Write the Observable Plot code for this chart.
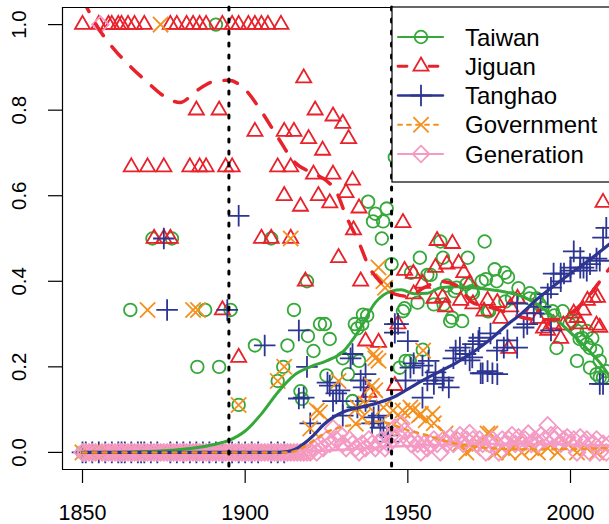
<!DOCTYPE html>
<html><head><meta charset="utf-8">
<script src="https://cdn.jsdelivr.net/npm/d3@7"></script>
<script src="https://cdn.jsdelivr.net/npm/@observablehq/plot@0.6"></script>
<style>
html,body{margin:0;padding:0;background:#fff;overflow:hidden;}
#chart{width:609px;height:524px;overflow:hidden;position:relative;}
#chart svg{overflow:hidden;}
</style></head><body><div id="chart"></div>
<script>
// ---------- data ----------
const seriesNames = ["Taiwan", "Jiguan", "Tanghao", "Government", "Generation"];
const xTicks = [1850, 1900, 1950, 2000];
const yTicks = [0, 0.2, 0.4, 0.6, 0.8, 1.0];
const eraLines = [1895, 1945];

// Taiwan
const taiwanZeroYears = [1850,1851,1852,1853,1854,1855,1856,1857,1858,1859,1860,1861,1862,1863,1866,1867,1868,1869,1870,1872,1873,1874,1875,1876,1878,1879,1880,1881,1882,1883,1884,1886,1888,1889,1890,1893,1894,1896,1897,1899,1900,1901,1902,1904,1905,1906,1907,1909,1914,1916];
const taiwanPoints = [[1864.7,0.333],[1871.5,0.5],[1877.5,0.5],[1885.3,0.2],[1887.7,0.333],[1891,1.0],[1892,0.2],[1895.5,0.333],[1898,0.111],[1903,0.25],[1908,0.5],[1910,0.167],[1911.7,0.2],[1913,0.25],[1915,0.333],[1917,0.143],[1917.5,0.125],[1919,0.4],[1919.3,0.272],[1921,0.237],[1923,0.3],[1924.5,0.3],[1925,0.18],[1926,0.265],[1930,0.22],[1931.6,0.183],[1933,0.12],[1933.7,0.3],[1934.5,0.29],[1935,0.214],[1936,0.3],[1936.2,0.322],[1937.5,0.32],[1937.8,0.586],[1939.3,0.54],[1940,0.558],[1942,0.5],[1942.4,0.54],[1943.5,0.57],[1945,0.44],[1946,0.69],[1947.5,0.198],[1948.5,0.33],[1949,0.337],[1949.3,0.214],[1950.6,0.214],[1951,0.42],[1953,0.35],[1953.7,0.455],[1954.6,0.24],[1956,0.415],[1957,0.415],[1958,0.346],[1960,0.493],[1960.8,0.455],[1961,0.346],[1962,0.39],[1963,0.307],[1963.6,0.315],[1964.4,0.377],[1965,0.385],[1966.7,0.307],[1968,0.393],[1968.4,0.455],[1969.6,0.377],[1970,0.372],[1972.7,0.4],[1973.6,0.493],[1974,0.405],[1974.5,0.33],[1975,0.33],[1976.7,0.428],[1977.3,0.4],[1979.8,0.42],[1980,0.353],[1980.8,0.41],[1982,0.36],[1984,0.384],[1987.4,0.36],[1987.5,0.372],[1989.6,0.36],[1990.5,0.346],[1991.4,0.337],[1994.5,0.33],[1995,0.32],[1995.7,0.244],[1997.6,0.33],[1999.7,0.3],[2000.6,0.307],[2002,0.284],[2002,0.214],[2002.8,0.265],[2003.7,0.267],[2005,0.253],[2005,0.284],[2006,0.198],[2006.7,0.267],[2006,0.244],[2008,0.237],[2008,0.183],[2009,0.214],[2009,0.175],[2011,0.19],[2010,0.175]];

// Jiguan
const jiguanOneYears = [1850,1855,1858,1859,1861,1862,1864,1866,1869,1877,1879,1882,1884,1886,1888,1893,1896,1898,1901,1903,1905,1907,1911];
const jiguanPoints = [[1885,0.8],[1892,0.8],[1918,0.875],[1865,0.667],[1870,0.667],[1875,0.667],[1883,0.667],[1886,0.667],[1888,0.667],[1894,0.667],[1896,0.667],[1910,0.667],[1914,0.667],[1903,0.75],[1912,0.75],[1915,0.75],[1872,0.5],[1875,0.5],[1877,0.5],[1905,0.5],[1908,0.5],[1914,0.5],[1912,0.6],[1917,0.575],[1898,0.222],[1918.5,0.4],[1893,0.333],[1921.5,0.8],[1927,0.786],[1930,0.769],[1931.8,0.733],[1919.5,0.733],[1923.8,0.706],[1921,0.65],[1927,0.65],[1933,0.636],[1922.5,0.6],[1926,0.583],[1931,0.607],[1935,0.571],[1933.3,0.52],[1928.7,0.455],[1935.5,0.4],[1937,0.26],[1941,0.257],[1938,0.14],[1946,0.156],[1947,0.3],[1948.5,0.537],[1959,0.495],[1963.7,0.488],[1949,0.425],[1951.7,0.418],[1958.5,0.432],[1954.5,0.395],[1965.6,0.442],[1967.2,0.42],[1969,0.395],[1960.7,0.362],[1962,0.44],[1951.8,0.37],[1958,0.36],[1961.6,0.34],[1966.2,0.355],[1970,0.347],[1973.4,0.33],[1974.5,0.355],[1977.5,0.35],[1978.5,0.313],[1981.6,0.34],[1983.7,0.36],[1981,0.243],[1988.6,0.336],[1990,0.313],[1991.7,0.29],[1993,0.285],[1994.8,0.3],[1997,0.266],[1997.8,0.297],[2001,0.325],[2002,0.315],[2003,0.3],[2004,0.332],[2005.2,0.355],[2007,0.362],[2008,0.297],[2008.3,0.362],[2009,0.292],[2010,0.584]];

// Tanghao
const tanghaoZeroYears = [1850,1851,1853,1855,1857,1859,1861,1862,1863,1865,1867,1868,1869,1871,1873,1877,1879,1881,1883,1885,1887,1889,1891,1893,1896,1898,1900,1902,1904,1908,1910,1912];
const tanghaoPoints = [[1875,0.5],[1876,0.333],[1894.5,0.333],[1898,0.553],[1906,0.25],[1916.5,0.285],[1919,0.2],[1916.5,0.126],[1918,0.128],[1920,0.068],[1925.3,0.163],[1926,0.156],[1927,0.12],[1928,0.138],[1929,0.145],[1930,0.12],[1930,0.086],[1932.4,0.22],[1933,0.23],[1934.5,0.105],[1935.5,0.168],[1936.4,0.152],[1937,0.183],[1937,0.12],[1939,0.068],[1939.5,0.082],[1941,0.086],[1941.6,0.058],[1942.5,0.058],[1943.7,0.04],[1944,0.025],[1946,0.3],[1946,0.28],[1947,0.3],[1949.3,0.168],[1950,0.26],[1950.8,0.198],[1951.8,0.208],[1954.5,0.203],[1954.5,0.128],[1956,0.168],[1956.4,0.214],[1958,0.16],[1958.5,0.187],[1960.7,0.168],[1961,0.175],[1962.6,0.152],[1964,0.22],[1964.7,0.238],[1966,0.245],[1967.7,0.23],[1969,0.215],[1969.8,0.222],[1970,0.253],[1971.7,0.26],[1972,0.268],[1972.4,0.185],[1973,0.185],[1974.5,0.19],[1975.4,0.278],[1976,0.185],[1977.4,0.238],[1977.5,0.183],[1979.5,0.245],[1980.6,0.262],[1983.6,0.245],[1983.6,0.348],[1985.6,0.292],[1986.7,0.3],[1988.7,0.325],[1990.8,0.34],[1993,0.37],[1994,0.285],[1994,0.385],[1994.8,0.418],[1997,0.418],[1997,0.4],[1998,0.418],[2000,0.425],[2000,0.432],[2001,0.47],[2003,0.432],[2003,0.455],[2004,0.432],[2005,0.425],[2006,0.44],[2008,0.453],[2009,0.448],[2009,0.16],[2010,0.16],[2010,0.502],[2011,0.525]];

// Government
const governmentZeroYears = [1850,1852,1853,1854,1856,1858,1860,1862,1864,1866,1868,1872,1876,1878,1880,1882,1886,1888,1890,1892,1894,1896,1900,1902,1904,1906,1908,1913,1915,1916,1918];
const governmentPoints = [[1870,0.333],[1874,1.0],[1884,0.333],[1885.5,0.333],[1898,0.111],[1910,0.167],[1912,0.2],[1914,0.5],[1920,0.056],[1922,0.098],[1923,0.093],[1928.7,0.167],[1934,0.067],[1934.5,0.105],[1936,0.082],[1937,0.114],[1939,0.156],[1939.5,0.23],[1940,0.22],[1940,0.145],[1941,0.214],[1941,0.432],[1942.5,0.4],[1943,0.385],[1942.5,0.105],[1944.7,0.058],[1945.4,0.098],[1947.7,0.082],[1948.4,0.098],[1950.8,0.105],[1951.5,0.098],[1953.4,0.086],[1954,0.09],[1954.7,0.238],[1955.5,0.075],[1957.6,0.09],[1958,0.068],[1961.6,0.044],[1963,0.03],[1966,0.02],[1968,0],[1970,0.01],[1972,0.02],[1974.5,0.044],[1975.4,0.044],[1977,0],[1979,0.01],[1981,0],[1983,0.02],[1985,0],[1988,0.01],[1990,0],[1993,0.01],[1996,0],[1999,0.02],[2002,0],[2005,0.01],[2008,0],[2011,0.01]];

// Generation
const generationZeroYears = [1850,1851,1852,1853,1854,1856,1857,1858,1859,1860,1861,1862,1863,1864,1865,1866,1867,1868,1869,1870,1871,1872,1873,1874,1875,1876,1877,1878,1879,1880,1881,1882,1883,1884,1885,1886,1887,1888,1889,1890,1891,1892,1893,1894,1895,1896,1897,1898,1899,1900,1901,1902,1903,1904,1905,1906,1907,1908,1909,1910,1911,1912,1913,1914,1915,1916,1917,1918,1919,1920,1922,1935,1954,1960,1974,1978,2002,2006,2009,2011];
const generationPoints = [[1855.5,1.0],[1921,0.01],[1923,0.02],[1924,0.01],[1925,0.03],[1926,0.02],[1927,0.056],[1928,0.03],[1929,0.044],[1930,0.02],[1931,0.01],[1932,0.03],[1933,0.02],[1934,0.01],[1936,0.02],[1937,0.01],[1938,0.03],[1939,0.02],[1940,0.01],[1941,0.02],[1942,0.03],[1943,0.01],[1944,0.02],[1945,0.04],[1946,0.058],[1947,0.04],[1948,0.067],[1949,0.05],[1950,0.03],[1951,0.02],[1952,0.03],[1953,0.02],[1955,0.02],[1956,0.01],[1957,0.02],[1958,0.03],[1959,0.02],[1961,0.03],[1962,0.02],[1963,0.035],[1964,0.02],[1965,0.03],[1966,0.04],[1967,0.02],[1968,0.03],[1969,0.045],[1970,0.03],[1971,0.02],[1972,0.03],[1973,0.02],[1975,0.02],[1976,0.03],[1977,0.02],[1979,0.03],[1980,0.02],[1981,0.03],[1982,0.04],[1983,0.02],[1984,0.035],[1985,0.02],[1986,0.03],[1987,0.044],[1988,0.02],[1989,0.03],[1990,0.02],[1991,0.04],[1992,0.03],[1993,0.063],[1994,0.04],[1995,0.03],[1996,0.04],[1997,0.02],[1998,0.03],[1999,0.035],[2000,0.02],[2001,0.03],[2003,0.035],[2004,0.02],[2005,0.03],[2007,0.02],[2008,0.03],[2010,0.02],[2012,0.02]];

// smoothed trend lines
const taiwanSmooth = [[1850,0],[1860,0],[1870,0.002],[1875,0.004],[1880,0.007],[1885,0.011],[1890,0.018],[1895,0.028],[1900,0.05],[1905,0.09],[1910,0.14],[1915,0.18],[1920,0.2],[1925,0.214],[1930,0.235],[1935,0.285],[1940,0.35],[1945,0.377],[1948,0.38],[1952,0.371],[1956,0.372],[1960,0.385],[1965,0.387],[1970,0.385],[1975,0.381],[1980,0.375],[1985,0.365],[1990,0.345],[1995,0.315],[2000,0.28],[2005,0.243],[2010,0.2],[2012,0.178]];
const jiguanSmooth = [[1850,1.06],[1855,0.99],[1860,0.94],[1865,0.9],[1870,0.865],[1875,0.833],[1880,0.818],[1885,0.845],[1890,0.866],[1895,0.87],[1900,0.848],[1905,0.797],[1910,0.737],[1915,0.68],[1920,0.655],[1925,0.635],[1928,0.61],[1931,0.553],[1935,0.49],[1938,0.435],[1942,0.395],[1946,0.37],[1950,0.365],[1955,0.385],[1960,0.4],[1965,0.39],[1970,0.35],[1975,0.34],[1980,0.328],[1985,0.316],[1990,0.31],[1995,0.31],[2000,0.325],[2005,0.36],[2010,0.41],[2012,0.43]];
const tanghaoSmooth = [[1850,0],[1910,0],[1913,0.002],[1915,0.006],[1918,0.02],[1921,0.04],[1924,0.064],[1927,0.082],[1930,0.094],[1935,0.105],[1940,0.114],[1945,0.127],[1950,0.148],[1955,0.17],[1960,0.19],[1965,0.21],[1970,0.234],[1975,0.262],[1980,0.295],[1985,0.325],[1990,0.36],[1995,0.39],[2000,0.418],[2005,0.445],[2010,0.475],[2012,0.487]];
const governmentSmooth = [[1850,0],[1913,0],[1916,0.005],[1920,0.022],[1925,0.047],[1930,0.06],[1935,0.066],[1940,0.072],[1944,0.068],[1947,0.06],[1950,0.052],[1955,0.042],[1960,0.03],[1965,0.02],[1970,0.014],[1975,0.01],[1980,0.008],[1990,0.007],[2000,0.008],[2012,0.01]];
const generationSmooth = [[1850,0],[1920,0.003],[1950,0.015],[1980,0.02],[2012,0.016]];

// ---------- styles ----------
const style = {
  Taiwan:     {color: "#35a83a", symbol: "circle",    r: 6.3, d3sym: d3.symbolCircle,   dash: null,   ldash: null,  lw: 3,   legW: 2.2},
  Jiguan:     {color: "#e8212a", symbol: "triangle2", r: 7.2, d3sym: d3.symbolTriangle2, dash: "14,14", ldash: "9,22", lw: 3.5, legW: 2.8},
  Tanghao:    {color: "#2d3592", symbol: "plus",      r: 7.0, d3sym: d3.symbolPlus,     dash: null,   ldash: null,  lw: 3.2, legW: 2.4},
  Government: {color: "#f4901e", symbol: "times",     r: 7.0, d3sym: d3.symbolTimes,    dash: "4,6",  ldash: "4,5", lw: 2.5, legW: 1.8},
  Generation: {color: "#f49ac4", symbol: "diamond2",  r: 7.5, d3sym: d3.symbolDiamond2, dash: null,   ldash: null,  lw: 2.5, legW: 2.2}
};

const rows = (name, zeroYears, zeroValue, pts) =>
  zeroYears.map(y => ({year: y, value: zeroValue, series: name}))
    .concat(pts.map(([y, v]) => ({year: y, value: v, series: name})));
const pointsBy = {
  Taiwan: rows("Taiwan", taiwanZeroYears, 0, taiwanPoints),
  Jiguan: rows("Jiguan", jiguanOneYears, 1, jiguanPoints),
  Tanghao: rows("Tanghao", tanghaoZeroYears, 0, tanghaoPoints),
  Government: rows("Government", governmentZeroYears, 0, governmentPoints),
  Generation: rows("Generation", generationZeroYears, 0, generationPoints)
};
const smoothBy = {
  Taiwan: taiwanSmooth, Jiguan: jiguanSmooth, Tanghao: tanghaoSmooth,
  Government: governmentSmooth, Generation: generationSmooth
};

const xDomain = [1843.85, 2020];
const yDomain = [-0.04, 1.04];

const marks = [];
for (const s of seriesNames) {
  const st = style[s];
  marks.push(Plot.dot(pointsBy[s], {x: "year", y: "value", symbol: st.symbol, r: st.r,
    stroke: st.color, fill: "none", strokeWidth: 1.8}));
}
for (const s of ["Generation", "Taiwan", "Jiguan", "Tanghao", "Government"]) {
  const st = style[s];
  marks.push(Plot.line(smoothBy[s], {x: d => d[0], y: d => d[1], stroke: st.color,
    strokeWidth: st.lw, strokeDasharray: st.dash || undefined, curve: "monotone-x", clip: true}));
}
marks.push(Plot.ruleX(eraLines, {stroke: "black", strokeWidth: 3, strokeDasharray: "3,9", strokeLinecap: "round"}));
marks.push(Plot.ruleY([yDomain[0], yDomain[1]], {stroke: "black", strokeWidth: 1.2}));
marks.push(Plot.ruleX([xDomain[0]], {stroke: "black", strokeWidth: 1.2}));
marks.push(Plot.axisX({ticks: xTicks, tickSize: 14, tickPadding: 21, tickFormat: "d", fontSize: 21.5, label: null, strokeWidth: 1.2}));
marks.push(Plot.axisY({ticks: yTicks, tickSize: 14, tickRotate: -90, tickPadding: 23, tickFormat: ".1f", fontSize: 20.5, label: null, strokeWidth: 1.2}));

const svg = Plot.plot({
  width: 609, height: 524,
  marginLeft: 62, marginRight: 0, marginTop: 7, marginBottom: 55,
  x: {domain: xDomain, range: [62, 635.07], label: null},
  y: {domain: yDomain, range: [469, 7], label: null},
  style: {fontFamily: "'Liberation Sans', Arial, Helvetica, sans-serif", background: "white", color: "black", overflow: "hidden"},
  marks
});
document.getElementById("chart").appendChild(svg);

// ---------- legend (inside the plot, top-right) ----------
const lg = d3.select(svg).append("g").attr("class", "legend");
lg.append("rect").attr("x", 392).attr("y", 7).attr("width", 400).attr("height", 175)
  .attr("fill", "white").attr("stroke", "black").attr("stroke-width", 1.2);
seriesNames.forEach((s, i) => {
  const st = style[s];
  const cy = 37 + i * 29.25;
  lg.append("line").attr("x1", 398).attr("x2", 443).attr("y1", cy).attr("y2", cy)
    .attr("stroke", st.color).attr("stroke-width", st.legW)
    .attr("stroke-linecap", "round")
    .attr("stroke-dasharray", st.ldash);
  lg.append("path").attr("transform", `translate(421,${cy})`)
    .attr("d", d3.symbol(st.d3sym, Math.PI * st.r * st.r)())
    .attr("fill", "none").attr("stroke", st.color).attr("stroke-width", 1.8);
  lg.append("text").attr("x", 465).attr("y", cy).attr("dy", "0.36em")
    .attr("text-anchor", "start")
    .style("font-size", "24px")
    .style("font-family", "'Liberation Sans', Arial, Helvetica, sans-serif")
    .attr("fill", "black").text(s);
});
</script></body></html>
